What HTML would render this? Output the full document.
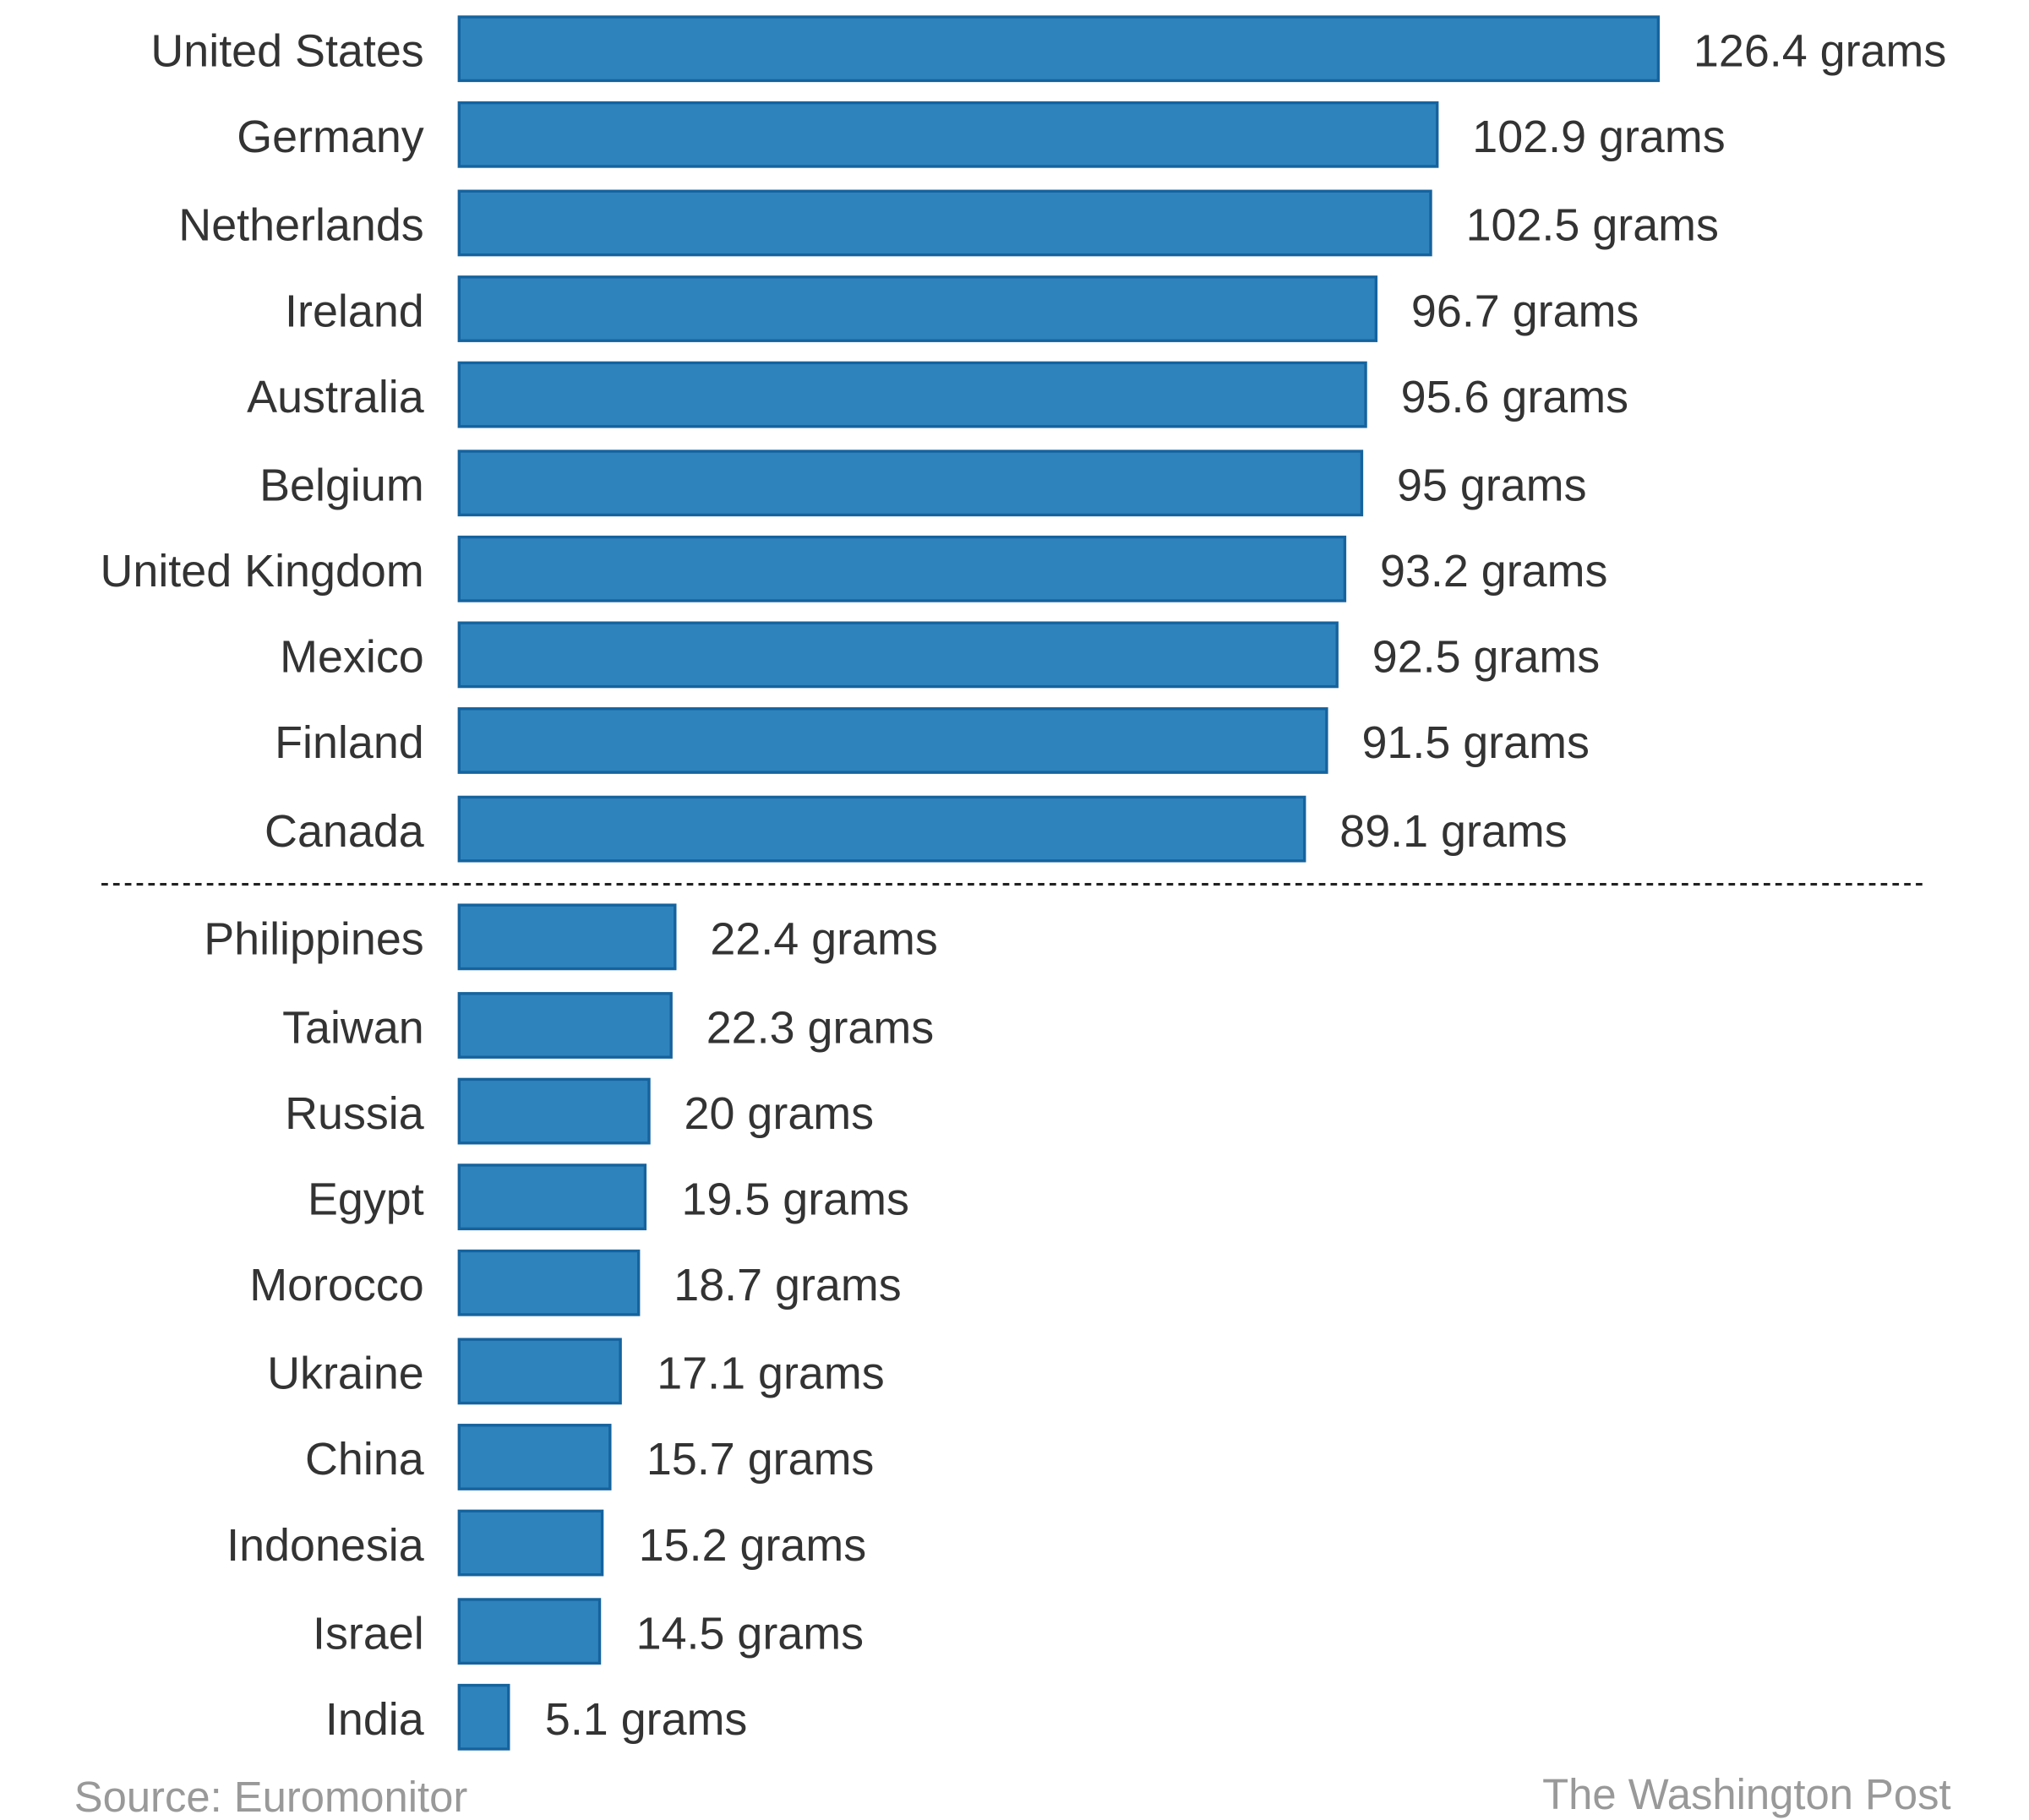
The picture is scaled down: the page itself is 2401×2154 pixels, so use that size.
<!DOCTYPE html>
<html><head><style>html,body{margin:0;padding:0;background:#fff;}svg{display:block}</style></head>
<body>
<svg width="2401" height="2154" viewBox="0 0 1560 1399.6" preserveAspectRatio="none" xmlns="http://www.w3.org/2000/svg" font-family="Liberation Sans, Arial, sans-serif">
<line x1="78" y1="680" x2="1482" y2="680" stroke="#222" stroke-width="2" stroke-dasharray="5,4"/>
<text x="57" y="1393" font-size="33" fill="#999">Source: Euromonitor</text>
<text x="1500" y="1391" font-size="33" fill="#999" text-anchor="end">The Washington Post</text>
<g fill="#2e83bd" stroke="#15639e" stroke-width="2.2">
<rect x="353" y="13" width="922" height="49"/>
<rect x="353" y="79" width="752" height="49"/>
<rect x="353" y="147" width="747" height="49"/>
<rect x="353" y="213" width="705" height="49"/>
<rect x="353" y="279" width="697" height="49"/>
<rect x="353" y="347" width="694" height="49"/>
<rect x="353" y="413" width="681" height="49"/>
<rect x="353" y="479" width="675" height="49"/>
<rect x="353" y="545" width="667" height="49"/>
<rect x="353" y="613" width="650" height="49"/>
<rect x="353" y="696" width="166" height="49"/>
<rect x="353" y="764" width="163" height="49"/>
<rect x="353" y="830" width="146" height="49"/>
<rect x="353" y="896" width="143" height="49"/>
<rect x="353" y="962" width="138" height="49"/>
<rect x="353" y="1030" width="124" height="49"/>
<rect x="353" y="1096" width="116" height="49"/>
<rect x="353" y="1162" width="110" height="49"/>
<rect x="353" y="1230" width="108" height="49"/>
<rect x="353" y="1296" width="38" height="49"/>
</g>
<g font-size="35" fill="#333" text-anchor="end">
<text x="326" y="51">United States</text>
<text x="326" y="117">Germany</text>
<text x="326" y="185">Netherlands</text>
<text x="326" y="251">Ireland</text>
<text x="326" y="317">Australia</text>
<text x="326" y="385">Belgium</text>
<text x="326" y="451">United Kingdom</text>
<text x="326" y="517">Mexico</text>
<text x="326" y="583">Finland</text>
<text x="326" y="651">Canada</text>
<text x="326" y="734">Philippines</text>
<text x="326" y="802">Taiwan</text>
<text x="326" y="868">Russia</text>
<text x="326" y="934">Egypt</text>
<text x="326" y="1000">Morocco</text>
<text x="326" y="1068">Ukraine</text>
<text x="326" y="1134">China</text>
<text x="326" y="1200">Indonesia</text>
<text x="326" y="1268">Israel</text>
<text x="326" y="1334">India</text>
</g>
<g font-size="35" fill="#333">
<text x="1302" y="51">126.4 grams</text>
<text x="1132" y="117">102.9 grams</text>
<text x="1127" y="185">102.5 grams</text>
<text x="1085" y="251">96.7 grams</text>
<text x="1077" y="317">95.6 grams</text>
<text x="1074" y="385">95 grams</text>
<text x="1061" y="451">93.2 grams</text>
<text x="1055" y="517">92.5 grams</text>
<text x="1047" y="583">91.5 grams</text>
<text x="1030" y="651">89.1 grams</text>
<text x="546" y="734">22.4 grams</text>
<text x="543" y="802">22.3 grams</text>
<text x="526" y="868">20 grams</text>
<text x="524" y="934">19.5 grams</text>
<text x="518" y="1000">18.7 grams</text>
<text x="505" y="1068">17.1 grams</text>
<text x="497" y="1134">15.7 grams</text>
<text x="491" y="1200">15.2 grams</text>
<text x="489" y="1268">14.5 grams</text>
<text x="419" y="1334">5.1 grams</text>
</g>
</svg>
</body></html>
